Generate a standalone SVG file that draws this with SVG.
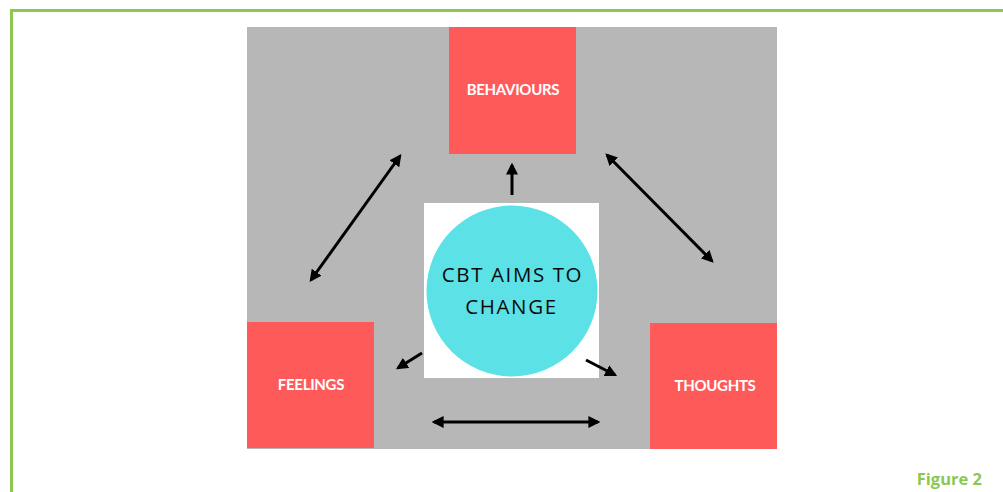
<svg xmlns="http://www.w3.org/2000/svg" width="1003" height="492" viewBox="0 0 1003 492">
<defs>
<style>
.box{fill:#ff5a5a}
.lbl{fill:#ffffff;font-family:Lato,"Open Sans",sans-serif;font-size:15px;font-weight:bold;letter-spacing:-0.3px;text-anchor:middle}
.ctr{font-family:"Open Sans",Lato,sans-serif;font-size:20.5px;letter-spacing:1.6px;fill:#0a0a0a;text-anchor:middle}
.arr{stroke:#000;stroke-width:3;fill:none;marker-end:url(#ah)}
.dbl{marker-start:url(#ah)}
</style>
<marker id="ah" viewBox="0 0 10 10" refX="8" refY="5" markerWidth="4" markerHeight="4" orient="auto-start-reverse" markerUnits="strokeWidth">
<path d="M0,0 L10,5 L0,10 Z" fill="#000"/>
</marker>
</defs>
<rect x="0" y="0" width="1003" height="492" fill="#fff"/>
<path d="M11.5,500 V10.5 H1010" fill="none" stroke="#8cc850" stroke-width="3"/>
<rect x="247" y="27" width="530" height="422" fill="#b6b7b6"/>
<g id="behaviours"><rect class="box" x="449" y="27" width="127" height="127"/><text class="lbl" x="513" y="95">BEHAVIOURS</text></g>
<g id="feelings"><rect class="box" x="247" y="322" width="127" height="126"/><text class="lbl" x="311" y="390">FEELINGS</text></g>
<g id="thoughts"><rect class="box" x="650" y="323" width="127" height="126"/><text class="lbl" x="715" y="391">THOUGHTS</text></g>
<g id="center">
<rect x="424" y="203" width="175" height="175" fill="#fff"/>
<circle cx="512" cy="291" r="85.5" fill="#5ce1e6"/>
<text class="ctr" x="512.5" y="282">CBT AIMS TO</text>
<text class="ctr" x="511.5" y="314">CHANGE</text>
</g>
<g id="connectors">
<line class="arr" x1="512" y1="195" x2="512" y2="165"/>
<line class="arr dbl" x1="311" y1="280" x2="400" y2="156"/>
<line class="arr dbl" x1="607" y1="155" x2="712" y2="261"/>
<line class="arr" x1="422" y1="353" x2="398" y2="368"/>
<line class="arr" x1="586" y1="360" x2="615" y2="375"/>
<line class="arr dbl" x1="434" y1="422" x2="598" y2="422"/>
</g>
<text x="982" y="485" font-family="'Open Sans',sans-serif" font-size="16.5" font-weight="bold" fill="#8cc850" text-anchor="end">Figure 2</text>
</svg>
